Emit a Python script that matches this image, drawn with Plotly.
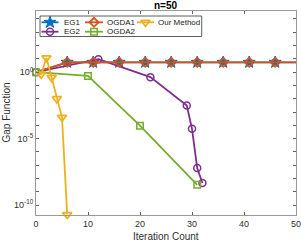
import plotly.graph_objects as go

# ---------------- data ----------------
eg1_x = [0, 6, 11, 16, 21, 26, 31, 36, 41, 46, 50]
eg1_y = [1, 5.5, 5.5, 5.5, 5.5, 5.5, 5.5, 5.5, 5.5, 5.5, 5.5]

ogda1_x = [0, 6, 11, 16, 21, 26, 31, 36, 41, 46, 50]
ogda1_y = [1, 5.5, 5.5, 5.5, 5.5, 5.5, 5.5, 5.5, 5.5, 5.5, 5.5]

eg2_x = [0, 12, 22, 29, 30, 31, 32]
eg2_y = [1, 9.4, 0.42, 3.1e-3, 5.4e-5, 6e-8, 4.5e-9]

ogda2_x = [0, 10, 20, 31]
ogda2_y = [1, 0.52, 9.4e-5, 3.3e-9]

our_x = [0, 1, 2, 3, 4, 5, 6]
our_y = [1, 0.7, 12, 0.4, 0.01, 4e-4, 1.9e-11]

series_names = ["EG1", "EG2", "OGDA1", "OGDA2", "Our Method"]

x_ticks = [0, 10, 20, 30, 40, 50]
y_decades = list(range(-10, 5))
y_labelled = {0: "10<sup>0</sup>", -5: "10<sup>-5</sup>", -10: "10<sup>-10</sup>"}

# ---------------- styles ----------------
C_BLUE = "#0072BD"
C_ORANGE = "#D95319"
C_YELLOW = "#EDB120"
C_PURPLE = "#7E2F8E"
C_GREEN = "#77AC30"
LW = 1.8
FONT = "Liberation Sans, Arial, sans-serif"
TXT = "#303030"

styles = {
    "EG1": dict(color=C_BLUE, symbol="star", size=9, mlw=1.0),
    "EG2": dict(color=C_PURPLE, symbol="circle-open", size=7, mlw=1.5),
    "OGDA1": dict(color=C_ORANGE, symbol="diamond-open", size=7, mlw=1.8),
    "OGDA2": dict(color=C_GREEN, symbol="square-open", size=6.5, mlw=1.5),
    "Our Method": dict(color=C_YELLOW, symbol="triangle-down-open", size=8, mlw=1.8),
}

data = {
    "EG1": (eg1_x, eg1_y, slice(1, -1)),
    "EG2": (eg2_x, eg2_y, slice(0, None)),
    "OGDA1": (ogda1_x, ogda1_y, slice(1, -1)),
    "OGDA2": (ogda2_x, ogda2_y, slice(0, None)),
    "Our Method": (our_x, our_y, slice(1, None)),
}

fig = go.Figure()

for name in series_names:
    xs, ys, msel = data[name]
    st = styles[name]
    fig.add_trace(go.Scatter(x=xs, y=ys, mode="lines", showlegend=False,
                             line=dict(color=st["color"], width=LW)))
    fig.add_trace(go.Scatter(x=xs[msel], y=ys[msel], mode="markers", showlegend=False,
                             cliponaxis=False,
                             marker=dict(symbol=st["symbol"], size=st["size"],
                                         color=st["color"],
                                         line=dict(color=st["color"], width=st["mlw"]))))

# ---------------- custom legend (overlay axis in plot pixels) ----------------
ML, MR, MT, MB = 36, 5, 11, 26
PW, PH = 301 - ML - MR, 241 - MT - MB
box = dict(x0=4, x1=165.7, y0=5, y1=25.5)
rows = [11.3, 20.7]
cols = [dict(l0=5.5, l1=22.5, tx=25.5), dict(l0=49, l1=67, tx=69), dict(l0=101, l1=118, tx=120)]
layout_pos = {"EG1": (0, 0), "EG2": (0, 1), "OGDA1": (1, 0), "OGDA2": (1, 1), "Our Method": (2, 0)}

fig.add_trace(go.Scatter(
    x=[box["x0"], box["x1"], box["x1"], box["x0"], box["x0"]],
    y=[box["y0"], box["y0"], box["y1"], box["y1"], box["y0"]],
    xaxis="x2", yaxis="y2", mode="lines", fill="toself", fillcolor="white",
    line=dict(color="#333333", width=0.8), showlegend=False, hoverinfo="skip"))

annotations = []
for name in series_names:
    ci, ri = layout_pos[name]
    c = cols[ci]
    yy = rows[ri]
    st = styles[name]
    fig.add_trace(go.Scatter(x=[c["l0"], c["l1"]], y=[yy, yy], xaxis="x2", yaxis="y2",
                             mode="lines", line=dict(color=st["color"], width=LW),
                             showlegend=False, hoverinfo="skip"))
    fig.add_trace(go.Scatter(x=[(c["l0"] + c["l1"]) / 2], y=[yy], xaxis="x2", yaxis="y2",
                             mode="markers", showlegend=False, hoverinfo="skip",
                             marker=dict(symbol=st["symbol"], size=st["size"], color=st["color"],
                                         line=dict(color=st["color"], width=st["mlw"]))))
    annotations.append(dict(x=c["tx"], y=yy, xref="x2", yref="y2", text=name, showarrow=False,
                            xanchor="left", yanchor="middle",
                            font=dict(size=8, color="#202020", family=FONT)))

# axis titles and plot title
annotations.append(dict(x=0.5, y=-(236 - (241 - MB)) / PH, xref="paper", yref="paper",
                        text="Iteration Count", showarrow=False, xanchor="center", yanchor="middle",
                        font=dict(size=10, color=TXT, family=FONT)))
annotations.append(dict(x=-(ML - 5.5) / PW, y=0.5, xref="paper", yref="paper", text="Gap Function",
                        showarrow=False, textangle=-90, xanchor="center", yanchor="middle",
                        font=dict(size=10, color=TXT, family=FONT)))
annotations.append(dict(x=0.5, y=1 + (MT - 5) / PH, xref="paper", yref="paper", text="<b>n=50</b>",
                        showarrow=False, xanchor="center", yanchor="middle",
                        font=dict(size=10, color="#000000", family=FONT)))

ytickvals = [10.0 ** d for d in y_decades]
yticktext = [y_labelled.get(d, "") for d in y_decades]

fig.update_layout(
    width=301, height=241,
    margin=dict(l=ML, r=MR, t=MT, b=MB, autoexpand=False),
    paper_bgcolor="white", plot_bgcolor="white",
    font=dict(family=FONT, size=9, color=TXT),
    showlegend=False,
    hovermode=False,
    annotations=annotations,
    xaxis=dict(range=[0, 50], tickvals=x_ticks, ticks="inside", ticklen=3, tickcolor="#666",
               showline=True, linecolor="#999", linewidth=1, mirror="ticks", showgrid=False,
               zeroline=False, automargin=False, ticklabeloverflow="allow",
               tickfont=dict(size=9, color=TXT)),
    yaxis=dict(type="log", range=[-10.75, 4.6], tickvals=ytickvals, ticktext=yticktext,
               ticks="inside", ticklen=3, tickcolor="#666", showline=True, linecolor="#999",
               linewidth=1, mirror="ticks", showgrid=False, zeroline=False, automargin=False,
               ticklabeloverflow="allow", tickfont=dict(size=9, color=TXT)),
    xaxis2=dict(overlaying="x", range=[0, PW], visible=False, fixedrange=True, automargin=False),
    yaxis2=dict(overlaying="y", range=[PH, 0], visible=False, fixedrange=True, automargin=False),
)

fig.write_html("out.html", config={"displayModeBar": False, "staticPlot": True},
               post_script="document.body.style.margin='0';document.body.style.padding='0';")
